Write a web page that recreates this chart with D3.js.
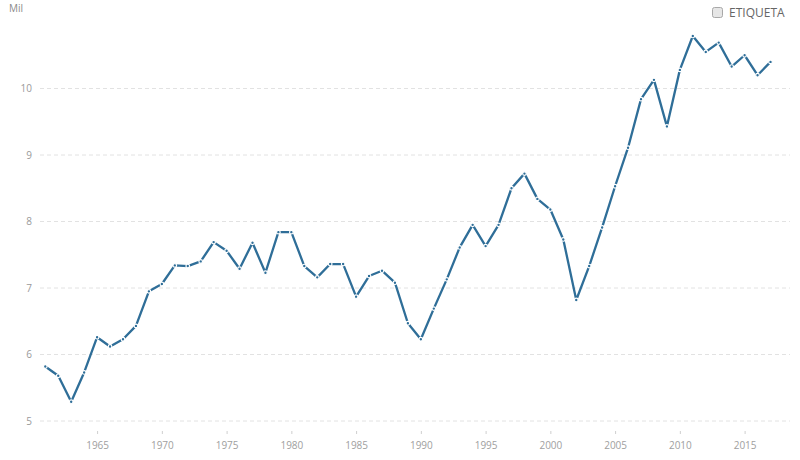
<!DOCTYPE html>
<html>
<head>
<meta charset="utf-8">
<script src="https://cdn.jsdelivr.net/npm/d3@7"></script>
<style>
  body { margin: 0; background: #fff; }
  text { font-family: "Open Sans", "Noto Sans", sans-serif; }
</style>
</head>
<body>
<div id="chart"></div>
<script>
// data
const years = d3.range(1961, 2018);
const values = [
    5.82, 5.68, 5.29, 5.73, 6.26, 6.12, 6.23, 6.43, 6.95, 7.06,
    7.34, 7.33, 7.40, 7.69, 7.56, 7.29, 7.68, 7.23, 7.84, 7.84,
    7.33, 7.16, 7.36, 7.36, 6.87, 7.18, 7.26, 7.08, 6.47, 6.23,
    6.69, 7.13, 7.61, 7.95, 7.63, 7.95, 8.50, 8.72, 8.34, 8.18,
    7.73, 6.82, 7.33, 7.91, 8.53, 9.11, 9.84, 10.13, 9.43, 10.28,
    10.79, 10.55, 10.69, 10.33, 10.50, 10.20, 10.40
];
const yTicks = [5, 6, 7, 8, 9, 10];
const xTicks = [1965, 1970, 1975, 1980, 1985, 1990, 1995, 2000, 2005, 2010, 2015];
const unitLabel = "Mil";
const legendLabel = "ETIQUETA";

const width = 800, height = 460;
const lineColor = "#2f6e98";

const svg = d3.select("#chart").append("svg")
    .attr("width", width)
    .attr("height", height);

const x = d3.scaleLinear().domain([1961, 2017]).range([45.3, 770.5]);
const y = d3.scaleLinear().domain([5, 10]).range([421, 88.5]);

// Horizontal grid
svg.append("g")
    .selectAll("line")
    .data(yTicks)
    .enter().append("line")
    .attr("x1", 40)
    .attr("x2", 790)
    .attr("y1", d => y(d))
    .attr("y2", d => y(d))
    .style("stroke", "#e2e2e2")
    .style("stroke-width", 1)
    .style("stroke-dasharray", "4,3");

// Y labels
svg.append("g")
    .selectAll("text")
    .data(yTicks)
    .enter().append("text")
    .attr("x", 32)
    .attr("y", d => y(d))
    .attr("dy", "0.35em")
    .attr("text-anchor", "end")
    .style("font-size", "10px")
    .style("fill", "#9a9a9a")
    .text(d => d);

// X axis
const xAxis = svg.append("g")
    .attr("transform", "translate(0,431)")
    .call(d3.axisBottom(x).tickValues(xTicks).tickFormat(d3.format("d")).tickSize(3).tickPadding(8));
xAxis.select(".domain").remove();
xAxis.selectAll("line").style("stroke", "#cfcfcf");
xAxis.selectAll("text")
    .style("font-family", "'Open Sans', sans-serif")
    .style("font-size", "10px")
    .style("fill", "#a0a0a0");

// unit label
svg.append("text")
    .attr("x", 9)
    .attr("y", 12)
    .style("font-size", "10px")
    .style("fill", "#8a8a8a")
    .text(unitLabel);

// legend
svg.append("rect")
    .attr("x", 712.5)
    .attr("y", 7.5)
    .attr("width", 10)
    .attr("height", 10)
    .attr("rx", 2)
    .style("fill", "#e6e6e6")
    .style("stroke", "#a8a8a8");
svg.append("text")
    .attr("x", 729)
    .attr("y", 17)
    .style("font-size", "12px")
    .style("fill", "#666")
    .text(legendLabel);

// Line
const line = d3.line()
    .x((d, i) => x(years[i]))
    .y(d => y(d));

svg.append("path")
    .datum(values)
    .attr("d", line)
    .style("fill", "none")
    .style("stroke", lineColor)
    .style("stroke-width", 2.3)
    .style("stroke-linejoin", "round");

svg.append("g")
    .selectAll("circle")
    .data(values)
    .enter().append("circle")
    .attr("cx", (d, i) => x(years[i]))
    .attr("cy", d => y(d))
    .attr("r", 1.8)
    .style("fill", lineColor)
    .style("stroke", "#fff")
    .style("stroke-width", 1.2);
</script>
</body>
</html>
